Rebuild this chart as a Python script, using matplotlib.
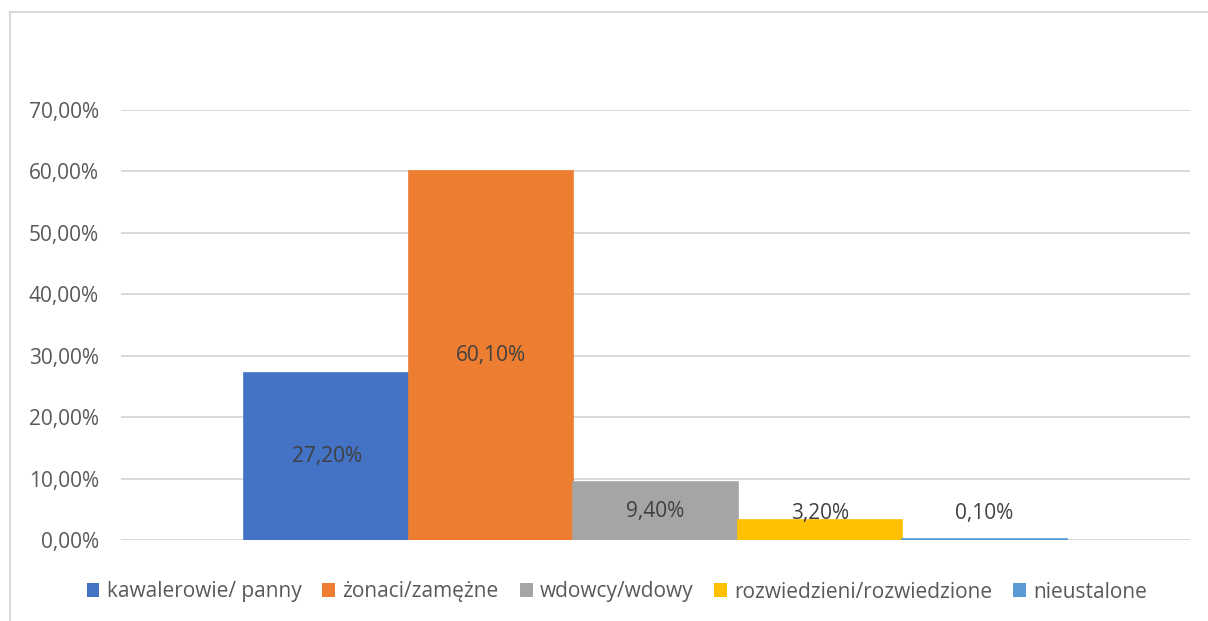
import matplotlib
matplotlib.use("Agg")
import matplotlib.pyplot as plt
from matplotlib.lines import Line2D
from matplotlib.patches import Patch
from matplotlib.ticker import FuncFormatter

series_names = ["kawalerowie/ panny", "żonaci/zamężne", "wdowcy/wdowy",
                "rozwiedzieni/rozwiedzione", "nieustalone"]
values = [27.2, 60.1, 9.4, 3.2, 0.1]
colors = ["#4472C4", "#ED7D31", "#A5A5A5", "#FFC000", "#5B9BD5"]
y_ticks = [0, 10, 20, 30, 40, 50, 60, 70]

plt.rcParams['font.family'] = ['Open Sans', 'DejaVu Sans']
FS = 15
TXT = "#595959"

fig = plt.figure(figsize=(12.08, 6.21), dpi=100)
ax = fig.add_axes([121/1208, 81/621, (1190-121)/1208, (540-110)/621])

n = len(values)
w = 1 / (n + 1.5)
for i, (v, c) in enumerate(zip(values, colors)):
    x = (i - (n - 1) / 2) * w
    ax.bar(x, v, width=w, color=c, edgecolor=c, linewidth=1.2, zorder=3)
    ly = max(v / 2, 4.3)
    ax.text(x, ly, f"{v:.2f}".replace(".", ",") + "%", ha="center", va="center",
            fontsize=FS, color="#404040", zorder=4)

ax.set_xlim(-0.5, 0.5)
ax.set_ylim(0, 70)
ax.set_yticks(y_ticks)
ax.yaxis.set_major_formatter(FuncFormatter(lambda v, p: f"{v:.2f}".replace(".", ",") + "%"))
ax.set_xticks([])
ax.tick_params(axis="y", length=0, pad=16, labelsize=FS, labelcolor=TXT)
for s in ax.spines.values():
    s.set_visible(False)
ax.grid(axis="y", color="#D9D9D9", linewidth=1.4, zorder=0)
ax.set_facecolor("none")

handles = [Patch(facecolor=c, edgecolor="none") for c in colors]
fig.legend(handles, series_names, loc="center", bbox_to_anchor=(617/1208, 1 - 592/621),
           ncol=n, frameon=False, fontsize=FS, labelcolor=TXT,
           handlelength=0.62, handleheight=0.62, handletextpad=0.35, columnspacing=1.0)

# outer chart frame (light gray), visible at top and left
fig.add_artist(Line2D([10/1208, 1.0], [1 - 12/621, 1 - 12/621], transform=fig.transFigure,
                      color="#D9D9D9", linewidth=1.5))
fig.add_artist(Line2D([10/1208, 10/1208], [0.0, 1 - 12/621], transform=fig.transFigure,
                      color="#D9D9D9", linewidth=1.5))

fig.savefig("out.png", dpi=100, facecolor="white")
